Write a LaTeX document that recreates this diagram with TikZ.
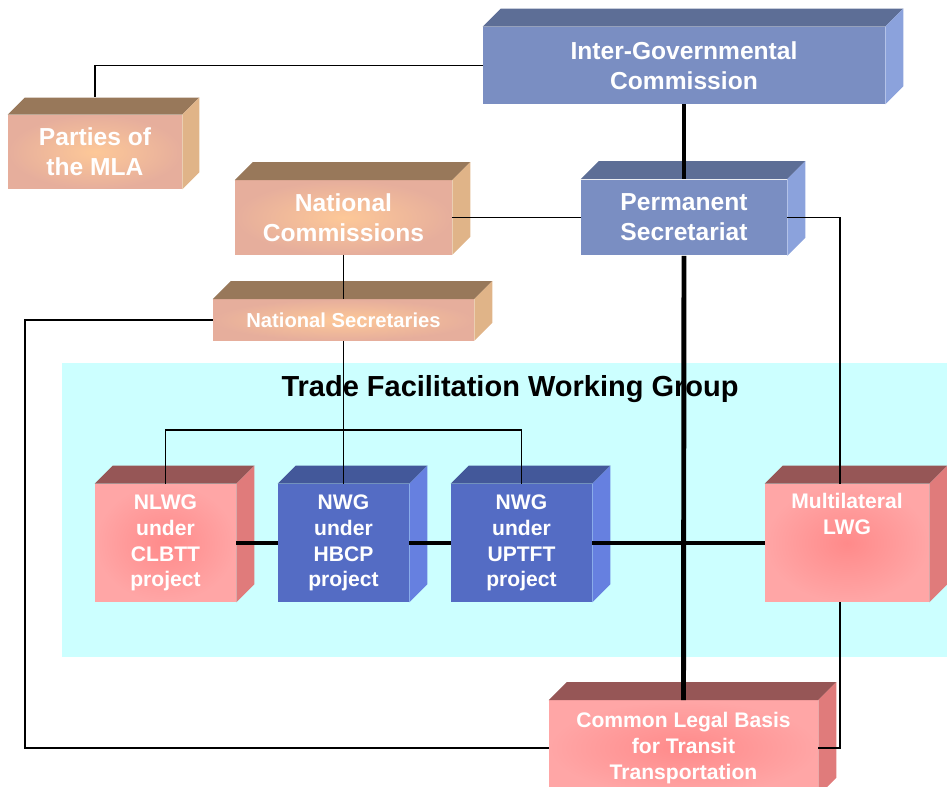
\documentclass[tikz,border=0pt]{standalone}
\usepackage{fontspec}
\setmainfont{Liberation Sans}
\usetikzlibrary{calc}
\definecolor{bluF}{HTML}{7A8EC2}
\definecolor{bluT}{HTML}{5D6E96}
\definecolor{bluS}{HTML}{8BA2DC}
\definecolor{dbF}{HTML}{546CC4}
\definecolor{dbT}{HTML}{43589A}
\definecolor{dbS}{HTML}{6680E0}
\definecolor{salF}{HTML}{E6AE9C}
\definecolor{salG}{HTML}{FDC898}
\definecolor{salT}{HTML}{98785A}
\definecolor{salS}{HTML}{E0B488}
\definecolor{pnkF}{HTML}{FFA6A6}
\definecolor{pnkG}{HTML}{FF8A8A}
\definecolor{pnkT}{HTML}{965656}
\definecolor{pnkS}{HTML}{E07B7B}
\definecolor{cyanbg}{HTML}{CCFFFF}
\newcommand\sidefaces[4]{%
  \fill[#3] (#1.north west) -- ++(#2,-#2) -- ($(#1.north east)+(#2,-#2)$) -- (#1.north east) -- cycle;
  \fill[#4] (#1.north east) -- ++(#2,-#2) -- ($(#1.south east)+(#2,-#2)$) -- (#1.south east) -- cycle;}
\tikzset{
  face/.style={rectangle, inner sep=0pt, align=center, text=white, font=\bfseries\fontsize{12}{14.7}\selectfont},
  bigface/.style={face, font=\bfseries\fontsize{14}{17}\selectfont},
  bluebox/.style={fill=bluF},
  darkbox/.style={fill=dbF},
  salbox/.style={shade, inner color=salG, outer color=salF},
  pnkbox/.style={shade, inner color=pnkG, outer color=pnkF},
  thin line/.style={line width=1.1pt, black},
  thick line/.style={line width=2.8pt, black}
}
\begin{document}
\begin{tikzpicture}[x=0.02cm,y=-0.02cm]
\useasboundingbox (0,0) rectangle (947,787);
% working group background
\fill[cyanbg] (62,363) rectangle (947,657);
\node[font=\bfseries\fontsize{16.5}{19}\selectfont, text=black] (tfwg) at (510,389) {Trade Facilitation Working Group};

% boxes
\node[bigface, bluebox, minimum width=8.04cm, minimum height=1.54cm] (igc) at (684,65.5) {Inter-Governmental\\Commission};
\sidefaces{igc}{18}{bluT}{bluS}
\node[bigface, salbox, minimum width=3.48cm, minimum height=1.48cm] (parties) at (95,152) {Parties of\\the MLA};
\sidefaces{parties}{17}{salT}{salS}
\node[bigface, salbox, minimum width=4.34cm, minimum height=1.48cm] (nc) at (343.5,217.5) {National\\Commissions};
\sidefaces{nc}{18}{salT}{salS}
\node[bigface, bluebox, minimum width=4.12cm, minimum height=1.52cm] (ps) at (684,217.5) {Permanent\\Secretariat};
\sidefaces{ps}{18}{bluT}{bluS}
\node[face, salbox, minimum width=5.22cm, minimum height=0.82cm, font=\bfseries\fontsize{11.5}{14}\selectfont] (ns) at (343.5,320) {National Secretaries};
\sidefaces{ns}{18}{salT}{salS}
\node[face, pnkbox, minimum width=2.82cm, minimum height=2.36cm] (nlwg) at (165.5,543) {NLWG\\under\\CLBTT\\project};
\sidefaces{nlwg}{18}{pnkT}{pnkS}
\node[face, darkbox, minimum width=2.62cm, minimum height=2.36cm] (hbcp) at (343.5,543) {NWG\\under\\HBCP\\project};
\sidefaces{hbcp}{18}{dbT}{dbS}
\node[face, darkbox, minimum width=2.82cm, minimum height=2.36cm] (uptft) at (521.5,543) {NWG\\under\\UPTFT\\project};
\sidefaces{uptft}{18}{dbT}{dbS}
\node[face, pnkbox, minimum width=3.28cm, minimum height=2.36cm] (mlwg) at (847,543) {};
\node[face, anchor=north] (mlwgt) at ([yshift=-0.18cm]mlwg.north) {Multilateral\\LWG};
\sidefaces{mlwg}{18}{pnkT}{pnkS}
\node[face, pnkbox, minimum width=5.38cm, minimum height=1.9cm] (clb) at (683.5,748) {Common Legal Basis\\for Transit\\Transportation};
\sidefaces{clb}{18}{pnkT}{pnkS}

% connectors
\coordinate (leftrail) at (25,320);
\coordinate (bracket) at (343,430);
\draw[thin line] (igc.west) -| ([yshift=0.36cm]parties.north);
\draw[thick line] (igc.south) -- (ps.north);
\draw[thin line] (nc.east) -- (ps.west);
\draw[thin line] (ps.east) -| ([xshift=-0.14cm]mlwg.north);
\draw[thick line] (ps.south) -- (clb.north);
\draw[thin line] (nc.south) -- (ns.north);
\draw[thin line] (ns.south) -- (hbcp.north);
\draw[thin line] (nlwg.north) |- (bracket) -| (uptft.north);
\draw[thin line] (ns.west) -- (leftrail) |- (clb.west);
\draw[thin line] ([xshift=-0.14cm]mlwg.south) |- (clb.east);
\draw[thick line] (nlwg.east) -- (hbcp.west);
\draw[thick line] (hbcp.east) -- (uptft.west);
\draw[thick line] (uptft.east) -- (mlwg.west);
\end{tikzpicture}
\end{document}
